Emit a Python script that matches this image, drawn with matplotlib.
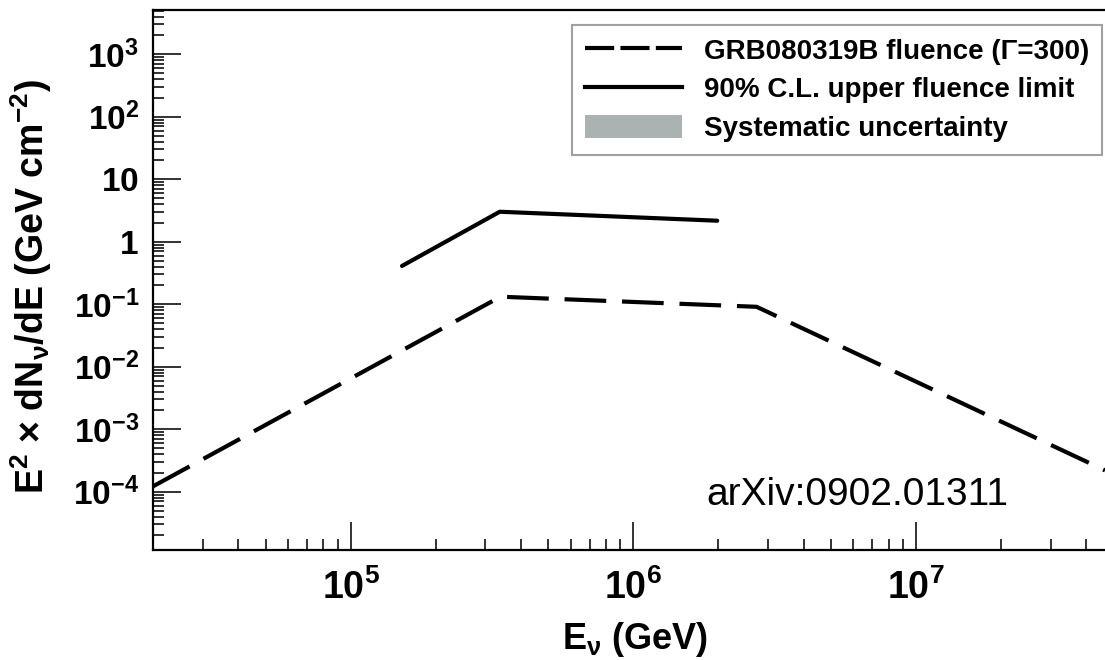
import matplotlib
matplotlib.use("Agg")
import matplotlib.pyplot as plt
from matplotlib.lines import Line2D
from matplotlib.patches import Patch
from matplotlib.ticker import LogLocator, FixedLocator, FixedFormatter, NullFormatter

plt.rcParams['font.family'] = ['Liberation Sans', 'DejaVu Sans']
plt.rcParams['mathtext.fontset'] = 'custom'
plt.rcParams['mathtext.rm'] = 'Liberation Sans:bold'
plt.rcParams['mathtext.bf'] = 'Liberation Sans:bold'
plt.rcParams['mathtext.it'] = 'Liberation Sans:bold'
plt.rcParams['mathtext.default'] = 'bf'

# data
fluence_E = [2.0e4, 3.39e5, 2.73e6, 4.66e7]
fluence_F = [1.22e-4, 0.132, 0.091, 2.2e-4]
limit_E = [1.52e5, 3.37e5, 1.98e6]
limit_F = [0.41, 3.02, 2.17]

ytick_vals = [1e-4, 1e-3, 1e-2, 1e-1, 1, 10, 1e2, 1e3]
ytick_labels = [r'$10^{-4}$', r'$10^{-3}$', r'$10^{-2}$', r'$10^{-1}$', r'$1$', r'$10$', r'$10^{2}$', r'$10^{3}$']
xtick_vals = [1e5, 1e6, 1e7]
xtick_labels = [r'$10^{5}$', r'$10^{6}$', r'$10^{7}$']

legend_labels = ['GRB080319B fluence (Γ=300)', '90% C.L. upper fluence limit', 'Systematic uncertainty']

fig = plt.figure(figsize=(11.05, 6.60), dpi=100)
ax = fig.add_axes([153/1105, 110/660, 952/1105, 540/660])

ax.plot(fluence_E, fluence_F, color='black', lw=3.0, dashes=(10, 3.8), solid_capstyle='butt')
ax.plot(limit_E, limit_F, color='black', lw=3.0, solid_capstyle='round')

ax.set_xscale('log')
ax.set_yscale('log')
ax.set_xlim(2.0e4, 4.66e7)
ax.set_ylim(1.17e-5, 5.1e3)

ax.xaxis.set_major_locator(FixedLocator(xtick_vals))
ax.xaxis.set_major_formatter(FixedFormatter(xtick_labels))
ax.yaxis.set_major_locator(FixedLocator(ytick_vals))
ax.yaxis.set_major_formatter(FixedFormatter(ytick_labels))
ax.xaxis.set_minor_locator(LogLocator(base=10, subs=range(2, 10), numticks=100))
ax.yaxis.set_minor_locator(LogLocator(base=10, subs=range(2, 10), numticks=100))
ax.xaxis.set_minor_formatter(NullFormatter())
ax.yaxis.set_minor_formatter(NullFormatter())

ax.tick_params(which='both', direction='in', top=False, right=False, width=1.3, color='#222222')
ax.tick_params(which='major', length=20)
ax.tick_params(axis='x', which='major', pad=14, labelsize=27)
ax.tick_params(axis='y', which='major', pad=10, labelsize=24)
ax.tick_params(which='minor', length=8)

for s in ['left', 'bottom', 'top']:
    ax.spines[s].set_linewidth(1.6)
ax.spines['right'].set_visible(False)

ax.set_xlabel(r'E$_{\nu}$ (GeV)', fontsize=26, fontweight='bold')
ax.xaxis.set_label_coords((635-153)/952, -(620-550)/540)
ax.set_ylabel(r'E$^{2}$ × dN$_{\nu}$/dE (GeV cm$^{-2}$)', fontsize=27, fontweight='bold')
ax.yaxis.set_label_coords((54-153)/952, (550-287)/540)

handles = [
    Line2D([0], [0], color='black', lw=3.0, dashes=(7, 1.5)),
    Line2D([0], [0], color='black', lw=3.0),
    Patch(facecolor='#aab2b2', edgecolor='none'),
]
leg = ax.legend(handles, legend_labels, loc='upper right',
                bbox_to_anchor=((1102-153)/952, (550-25)/540), borderaxespad=0,
                fancybox=False, shadow=False, frameon=True,
                prop={'family': 'Liberation Sans', 'weight': 'bold', 'size': 20},
                handlelength=3.5, handleheight=0.9, handletextpad=0.8,
                labelspacing=0.42, borderpad=0.45)
leg.get_frame().set_edgecolor('#888888')
leg.get_frame().set_linewidth(1.5)

ax.text((706-153)/952, (550-505)/540, 'arXiv:0902.01311', transform=ax.transAxes,
        fontsize=28, fontweight='normal', va='baseline', ha='left')

fig.savefig('out.png', dpi=100)
